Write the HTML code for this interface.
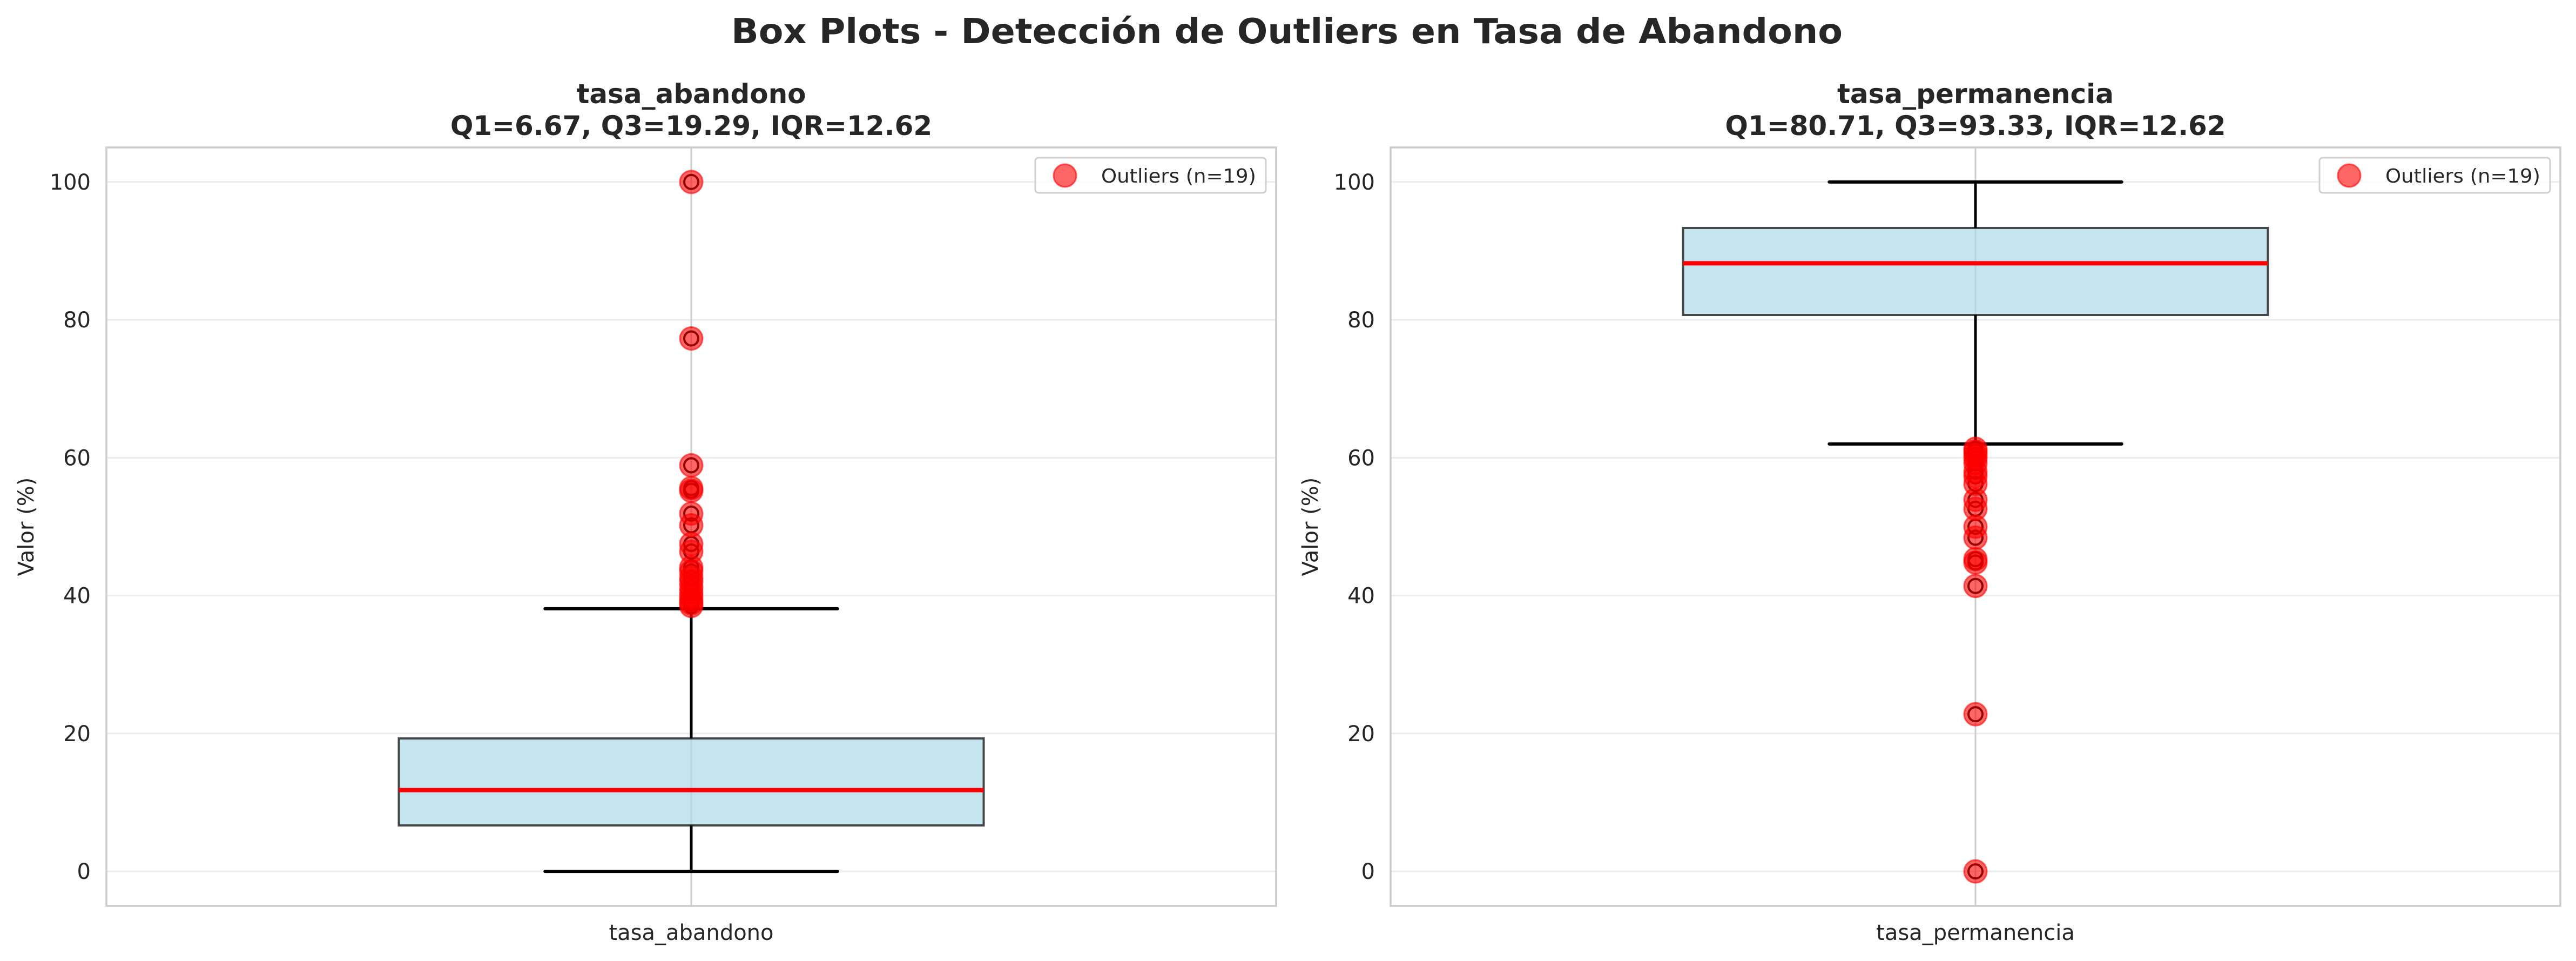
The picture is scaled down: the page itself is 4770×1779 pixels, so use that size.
<!DOCTYPE html>
<html><head><meta charset="utf-8"><style>
html,body{margin:0;padding:0;background:#fff;}
svg{display:block;font-family:"DejaVu Sans","Liberation Sans",sans-serif;}
</style></head><body>
<svg id="chart" width="4770" height="1779" viewBox="0 0 4770 1779" xmlns="http://www.w3.org/2000/svg">
<rect width="4770" height="1779" fill="#fff"/>
<text x="2383" y="80" text-anchor="middle" font-size="64" font-weight="bold" fill="#262626" textLength="2058" lengthAdjust="spacingAndGlyphs">Box Plots - Detección de Outliers en Tasa de Abandono</text>
<g id="plots"></g>
</svg>
<script>
const categories = ["tasa_abandono", "tasa_permanencia"];
const titles2 = ["Q1=6.67, Q3=19.29, IQR=12.62", "Q1=80.71, Q3=93.33, IQR=12.62"];
const q1Values = [6.67, 80.71];
const q3Values = [19.29, 93.33];
const medianValues = [11.8, 88.2];
const whiskerLow = [0, 62.0];
const whiskerHigh = [38.1, 100];
const outliersAbandono = [100, 77.3, 58.9, 55.6, 55.2, 51.9, 50.2, 47.5, 46.4, 44.1, 43.5, 42.6, 42.0, 41.2, 40.5, 39.9, 39.3, 38.9, 38.5];
const outliersPermanencia = [61.3, 60.9, 60.4, 59.9, 59.2, 58.0, 57.3, 56.2, 53.9, 52.6, 50.0, 48.4, 45.3, 44.8, 41.4, 22.8, 0];
const outlierSets = [outliersAbandono, outliersPermanencia];
const yTicks = [0, 20, 40, 60, 80, 100];
const legendLabel = "Outliers (n=19)";

const NS = "http://www.w3.org/2000/svg";
const root = document.getElementById("plots");
function mk(tag, attrs, parent, text) {
  const e = document.createElementNS(NS, tag);
  for (const k in attrs) e.setAttribute(k, attrs[k]);
  if (text !== undefined) e.textContent = text;
  (parent || root).appendChild(e);
  return e;
}
const axesX = [[197, 2363], [2575, 4741]];
const axTop = 273, axBottom = 1677, yMin = -5, yMax = 105;
function yScale(v) { return axBottom - (v - yMin) / (yMax - yMin) * (axBottom - axTop); }

for (let i = 0; i < 2; i++) {
  const L = axesX[i][0], R = axesX[i][1];
  const W = R - L;
  const cx = (L + R) / 2;
  const g = mk("g", {});
  
  
  yTicks.forEach(t => {
    const gl = mk("line", {x1: L, x2: R, y1: yScale(t), y2: yScale(t), stroke: "#ebebeb", "stroke-width": 3}, g);
    
    
    const tl = mk("text", {x: L - 29, y: yScale(t) + 14, "text-anchor": "end", "font-size": 40, fill: "#262626"}, g, String(t));
    
    
  });
  const vg = mk("line", {x1: cx, x2: cx, y1: axTop, y2: axBottom, stroke: "#cccccc", "stroke-width": 3}, g);
  
  
  const bw = W * 0.5 / 2;
  const box = mk("rect", {x: cx - bw, y: yScale(q3Values[i]), width: bw * 2, height: yScale(q1Values[i]) - yScale(q3Values[i]), fill: "#add8e6", "fill-opacity": 0.7, stroke: "#333", "stroke-opacity": 0.9, "stroke-width": 4}, g);
  
  
  const capw = W * 0.25 / 2;
  const w1 = mk("line", {x1: cx, x2: cx, y1: yScale(q1Values[i]), y2: yScale(whiskerLow[i]), stroke: "#000", "stroke-width": 5}, g);
  
  
  const w2 = mk("line", {x1: cx, x2: cx, y1: yScale(q3Values[i]), y2: yScale(whiskerHigh[i]), stroke: "#000", "stroke-width": 5}, g);
  
  
  [whiskerLow[i], whiskerHigh[i]].forEach(v => {
    const c = mk("line", {x1: cx - capw, x2: cx + capw, y1: yScale(v), y2: yScale(v), stroke: "#000", "stroke-width": 6, "stroke-linecap": "round"}, g);
    
    
  });
  const med = mk("line", {x1: cx - bw, x2: cx + bw, y1: yScale(medianValues[i]), y2: yScale(medianValues[i]), stroke: "#ff0000", "stroke-width": 8}, g);
  
  
  outlierSets[i].forEach(v => {
    const f = mk("circle", {cx: cx, cy: yScale(v), r: 13, fill: "none", stroke: "#000", "stroke-width": 4}, g);
    
    
  });
  outlierSets[i].forEach(v => {
    const p = mk("circle", {cx: cx, cy: yScale(v), r: 21, fill: "#ff0000", "fill-opacity": 0.6, stroke: "#ff0000", "stroke-opacity": 0.6, "stroke-width": 3}, g);
    
    
  });
  const sp = mk("rect", {x: L, y: axTop, width: W, height: axBottom - axTop, fill: "none", stroke: "#cccccc", "stroke-width": 3.5}, g);
  
  
  const t1 = mk("text", {x: cx, y: 191, "text-anchor": "middle", "font-size": 50, "font-weight": "bold", fill: "#262626"}, g, categories[i]);
  
  
  const t2 = mk("text", {x: cx, y: 250, "text-anchor": "middle", "font-size": 50, "font-weight": "bold", fill: "#262626"}, g, titles2[i]);
  
  
  const xl = mk("text", {x: cx, y: 1740, "text-anchor": "middle", "font-size": 40, fill: "#262626"}, g, categories[i]);
  
  
  const yl = mk("text", {x: 0, y: 0, transform: "translate(" + (L - 135) + "," + ((axTop + axBottom) / 2) + ") rotate(-90)", "text-anchor": "middle", "font-size": 40, fill: "#262626"}, g, "Valor (%)");
  
  
  const lg = mk("g", {}, g);
  
  
  const lx = R - 446;
  mk("rect", {x: lx, y: 292, width: 427, height: 65, rx: 6, fill: "#fff", "fill-opacity": 0.8, stroke: "#d0d0d0", "stroke-width": 3}, lg);
  const lm = mk("circle", {cx: lx + 55, cy: 325, r: 21, fill: "#ff0000", "fill-opacity": 0.6, stroke: "#ff0000", "stroke-opacity": 0.6, "stroke-width": 3}, lg);
  
  
  const lt = mk("text", {x: lx + 122, y: 338, "font-size": 36, fill: "#262626", textLength: 287, lengthAdjust: "spacingAndGlyphs"}, lg, legendLabel);
  
  
}
</script>
</body></html>
